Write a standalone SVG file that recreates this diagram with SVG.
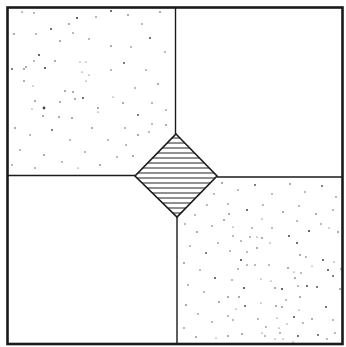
<svg xmlns="http://www.w3.org/2000/svg" width="346" height="347" viewBox="0 0 346 347">
<style>
.ln{stroke:#1a1a1a;fill:none}
.dt circle{fill:#444}
.h{stroke:#222;stroke-width:1.1}
</style>
<defs>
<clipPath id="dc"><polygon points="176,134 217,176 177,217 135,176"/></clipPath>
</defs>
<rect x="0" y="0" width="346" height="347" fill="#fff"/>
<g id="stipple-tl" class="dt">
<circle cx="22" cy="12" r="0.7"/><circle cx="34" cy="13" r="0.7"/><circle cx="77" cy="18" r="1.1"/><circle cx="96" cy="17" r="0.7"/><circle cx="111" cy="11" r="1"/><circle cx="69" cy="24" r="0.8"/><circle cx="14" cy="34" r="0.8"/><circle cx="36" cy="34" r="0.7"/><circle cx="51" cy="29" r="1"/><circle cx="73" cy="33" r="0.7"/><circle cx="60" cy="41" r="0.8"/><circle cx="89" cy="39" r="0.7"/><circle cx="111" cy="46" r="0.8"/><circle cx="39" cy="55" r="1.1"/><circle cx="34" cy="61" r="0.7"/><circle cx="55" cy="61" r="0.8"/><circle cx="26" cy="67" r="0.8"/><circle cx="80" cy="62" r="0.6"/><circle cx="86" cy="62" r="0.6"/><circle cx="12" cy="69" r="0.9"/><circle cx="24" cy="69" r="0.8"/><circle cx="45" cy="68" r="1.1"/><circle cx="82" cy="72" r="0.6"/><circle cx="89" cy="75" r="0.6"/><circle cx="111" cy="70" r="0.7"/><circle cx="86" cy="81" r="0.6"/><circle cx="24" cy="81" r="0.8"/><circle cx="33" cy="86" r="0.6"/><circle cx="65" cy="91" r="0.8"/><circle cx="73" cy="92" r="0.8"/><circle cx="83" cy="98" r="1"/><circle cx="113" cy="97" r="0.6"/><circle cx="75" cy="99" r="0.8"/><circle cx="35" cy="101" r="0.8"/><circle cx="60" cy="102" r="0.8"/><circle cx="44" cy="108" r="1.4"/><circle cx="98" cy="108" r="0.8"/><circle cx="32" cy="109" r="0.6"/><circle cx="43" cy="116" r="0.8"/><circle cx="72" cy="118" r="0.8"/><circle cx="59" cy="117" r="0.8"/><circle cx="98" cy="112" r="0.6"/>
<circle cx="128" cy="15" r="0.8"/><circle cx="142" cy="24" r="0.7"/><circle cx="160" cy="12" r="0.8"/><circle cx="150" cy="38" r="1"/><circle cx="131" cy="47" r="0.7"/><circle cx="165" cy="52" r="0.7"/><circle cx="124" cy="63" r="0.9"/><circle cx="146" cy="70" r="0.7"/><circle cx="158" cy="84" r="0.8"/><circle cx="135" cy="88" r="0.7"/><circle cx="123" cy="103" r="0.8"/><circle cx="152" cy="103" r="0.7"/><circle cx="166" cy="110" r="0.7"/><circle cx="138" cy="115" r="0.9"/><circle cx="152" cy="124" r="0.7"/><circle cx="125" cy="128" r="0.7"/><circle cx="138" cy="135" r="0.8"/><circle cx="126" cy="145" r="0.7"/><circle cx="133" cy="156" r="0.8"/><circle cx="149" cy="132" r="0.7"/><circle cx="166" cy="125" r="0.8"/>
<circle cx="15" cy="128" r="0.8"/><circle cx="30" cy="135" r="0.7"/><circle cx="52" cy="130" r="0.9"/><circle cx="70" cy="140" r="0.7"/><circle cx="92" cy="128" r="0.8"/><circle cx="108" cy="140" r="0.7"/><circle cx="20" cy="150" r="0.7"/><circle cx="44" cy="155" r="0.8"/><circle cx="62" cy="162" r="0.7"/><circle cx="85" cy="152" r="0.7"/><circle cx="100" cy="165" r="0.8"/><circle cx="117" cy="157" r="0.7"/><circle cx="12" cy="165" r="0.7"/><circle cx="35" cy="168" r="0.7"/><circle cx="78" cy="168" r="0.6"/>
</g>
<g id="stipple-br" class="dt">
<circle cx="233" cy="227" r="0.6"/><circle cx="252" cy="228" r="0.7"/><circle cx="272" cy="228" r="0.7"/><circle cx="309" cy="231" r="1.1"/><circle cx="329" cy="228" r="0.6"/><circle cx="338" cy="232" r="0.8"/><circle cx="233" cy="236" r="0.7"/><circle cx="250" cy="237" r="0.7"/><circle cx="257" cy="237" r="0.6"/><circle cx="262" cy="238" r="0.8"/><circle cx="289" cy="236" r="1"/><circle cx="241" cy="241" r="0.7"/><circle cx="270" cy="243" r="0.6"/><circle cx="297" cy="243" r="1"/><circle cx="257" cy="248" r="0.8"/><circle cx="230" cy="251" r="0.7"/><circle cx="247" cy="252" r="0.7"/><circle cx="300" cy="255" r="0.8"/><circle cx="306" cy="257" r="0.7"/><circle cx="241" cy="260" r="1.1"/><circle cx="323" cy="260" r="1"/><circle cx="334" cy="262" r="0.6"/><circle cx="255" cy="265" r="0.7"/><circle cx="247" cy="265" r="0.7"/><circle cx="269" cy="265" r="0.7"/><circle cx="312" cy="266" r="0.6"/><circle cx="238" cy="269" r="0.7"/><circle cx="288" cy="268" r="0.8"/><circle cx="294" cy="272" r="0.6"/><circle cx="301" cy="273" r="0.7"/><circle cx="328" cy="270" r="1"/><circle cx="341" cy="269" r="0.7"/><circle cx="261" cy="279" r="0.6"/><circle cx="232" cy="280" r="0.7"/><circle cx="271" cy="281" r="0.6"/><circle cx="295" cy="278" r="0.8"/><circle cx="333" cy="276" r="0.9"/><circle cx="298" cy="286" r="0.7"/><circle cx="307" cy="286" r="1"/><circle cx="317" cy="287" r="0.9"/><circle cx="244" cy="288" r="1.1"/><circle cx="275" cy="288" r="0.8"/><circle cx="282" cy="289" r="1.1"/><circle cx="340" cy="289" r="0.8"/><circle cx="228" cy="297" r="0.8"/><circle cx="239" cy="297" r="0.8"/><circle cx="300" cy="297" r="0.8"/><circle cx="286" cy="300" r="0.7"/><circle cx="261" cy="303" r="0.6"/><circle cx="276" cy="306" r="0.8"/><circle cx="282" cy="307" r="0.8"/><circle cx="245" cy="306" r="0.9"/><circle cx="236" cy="309" r="0.6"/><circle cx="326" cy="307" r="1"/><circle cx="299" cy="310" r="0.6"/><circle cx="228" cy="316" r="0.7"/><circle cx="294" cy="317" r="1"/><circle cx="277" cy="318" r="0.6"/><circle cx="312" cy="319" r="0.8"/><circle cx="333" cy="320" r="0.7"/><circle cx="258" cy="319" r="0.7"/><circle cx="233" cy="320" r="0.7"/><circle cx="303" cy="323" r="0.7"/><circle cx="287" cy="324" r="0.6"/><circle cx="266" cy="327" r="0.7"/><circle cx="279" cy="328" r="0.6"/><circle cx="280" cy="333" r="0.7"/><circle cx="262" cy="333" r="0.6"/><circle cx="242" cy="334" r="0.8"/><circle cx="228" cy="336" r="0.8"/><circle cx="265" cy="336" r="0.7"/><circle cx="298" cy="336" r="1"/><circle cx="318" cy="335" r="0.9"/><circle cx="335" cy="333" r="0.7"/><circle cx="275" cy="339" r="0.6"/><circle cx="283" cy="339" r="0.6"/><circle cx="293" cy="342" r="0.6"/><circle cx="327" cy="339" r="0.7"/>
<circle cx="222" cy="183" r="0.8"/><circle cx="238" cy="190" r="0.7"/><circle cx="255" cy="185" r="0.9"/><circle cx="272" cy="194" r="0.7"/><circle cx="290" cy="184" r="0.8"/><circle cx="305" cy="192" r="0.7"/><circle cx="322" cy="186" r="0.9"/><circle cx="336" cy="197" r="0.7"/><circle cx="228" cy="204" r="0.7"/><circle cx="247" cy="210" r="1"/><circle cx="263" cy="205" r="0.7"/><circle cx="283" cy="212" r="0.8"/><circle cx="299" cy="206" r="0.7"/><circle cx="316" cy="214" r="0.8"/><circle cx="333" cy="210" r="0.7"/><circle cx="224" cy="220" r="0.8"/><circle cx="262" cy="219" r="0.6"/><circle cx="297" cy="221" r="0.7"/><circle cx="321" cy="224" r="0.7"/>
<circle cx="185" cy="224" r="0.7"/><circle cx="197" cy="232" r="0.8"/><circle cx="212" cy="226" r="0.7"/><circle cx="190" cy="246" r="0.7"/><circle cx="206" cy="253" r="0.9"/><circle cx="218" cy="243" r="0.7"/><circle cx="184" cy="263" r="0.8"/><circle cx="200" cy="270" r="0.7"/><circle cx="215" cy="278" r="1"/><circle cx="188" cy="285" r="0.7"/><circle cx="204" cy="292" r="0.7"/><circle cx="219" cy="302" r="0.8"/><circle cx="186" cy="305" r="0.8"/><circle cx="198" cy="314" r="0.7"/><circle cx="212" cy="322" r="0.7"/><circle cx="184" cy="328" r="0.7"/><circle cx="196" cy="337" r="0.8"/><circle cx="216" cy="338" r="0.6"/><circle cx="207" cy="205" r="0.7"/><circle cx="195" cy="215" r="0.7"/><circle cx="229" cy="214" r="0.8"/><circle cx="214" cy="194" r="0.7"/>
</g>
<g id="frame">
<rect class="ln" x="7.5" y="7.5" width="335" height="336.5" stroke-width="2.6"/>
</g>
<g id="diamond">
<g clip-path="url(#dc)">
<line class="h" x1="130" y1="138" x2="222" y2="138"/><line class="h" x1="130" y1="143" x2="222" y2="143"/><line class="h" x1="130" y1="148" x2="222" y2="148"/><line class="h" x1="130" y1="153" x2="222" y2="153"/><line class="h" x1="130" y1="158" x2="222" y2="158"/><line class="h" x1="130" y1="163" x2="222" y2="163"/><line class="h" x1="130" y1="168" x2="222" y2="168"/><line class="h" x1="130" y1="173" x2="222" y2="173"/><line class="h" x1="130" y1="178" x2="222" y2="178"/><line class="h" x1="130" y1="183" x2="222" y2="183"/><line class="h" x1="130" y1="188" x2="222" y2="188"/><line class="h" x1="130" y1="193" x2="222" y2="193"/><line class="h" x1="130" y1="198" x2="222" y2="198"/><line class="h" x1="130" y1="203" x2="222" y2="203"/><line class="h" x1="130" y1="208" x2="222" y2="208"/><line class="h" x1="130" y1="213" x2="222" y2="213"/>
</g>
<polygon class="ln" points="176,134 217,176 177,217 135,176" stroke-width="1.6"/>
</g>
<g id="connectors">
<line class="ln" x1="175.5" y1="7" x2="175.5" y2="134" stroke-width="1.4"/>
<line class="ln" x1="177" y1="217" x2="177" y2="344" stroke-width="1.4"/>
<line class="ln" x1="7" y1="175.5" x2="135" y2="175.5" stroke-width="1.4"/>
<line class="ln" x1="217" y1="177" x2="343" y2="177" stroke-width="1.4"/>
</g>
</svg>
